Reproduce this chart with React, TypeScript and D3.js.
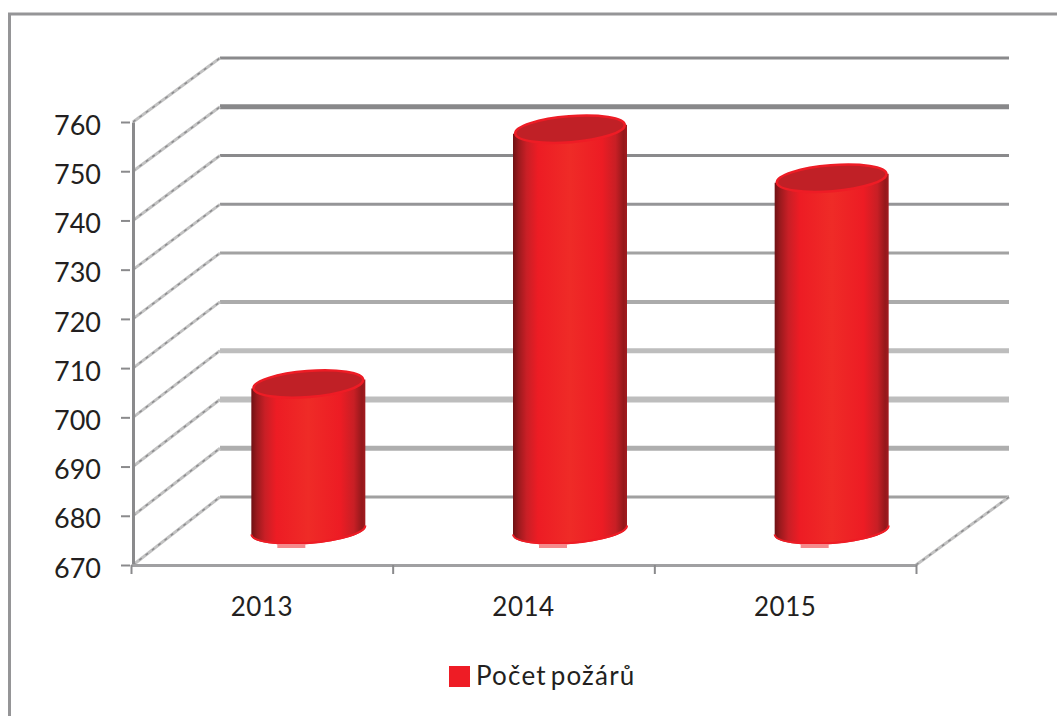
import * as d3 from 'd3';
import { useEffect, useRef } from 'react';

const categories = ['2013', '2014', '2015'];
const values = [700, 752, 742];
const yTicks = [670, 680, 690, 700, 710, 720, 730, 740, 750, 760];
const seriesName = 'Počet požárů';

// back wall lines differ a lot in the picture, bottom to top
const gridWidths = [3, 5, 6, 5, 4, 3, 3, 3, 5, 3];
const gridColors = ['#a0a0a0', '#aeaeae', '#bdbdbd', '#bdbdbd', '#ababab', '#a2a2a2', '#959597', '#8a8a8c', '#88888a', '#8a8a8c'];

const FONT = 'Lato, sans-serif';
const TILT = -4.5;

function App() {
  const svgRef = useRef<SVGSVGElement>(null);

  useEffect(() => {
    const svg = d3.select(svgRef.current);
    svg.selectAll('*').remove();

    const left = 131;
    const right = 916;
    const axisX = 133;
    const backX = 220;
    const wallRight = 1009;

    const x = d3.scaleBand().domain(categories).range([left, right]);
    const y = d3.scaleLinear().domain([670, 760]).range([565, 122]);
    const yBack = d3.scaleLinear().domain([670, 760]).range([497, 58]);
    const yMid = (v: number) => (y(v) + yBack(v)) / 2;

    // outer chart frame, only top and left edges are in the crop
    svg.append('path')
      .attr('d', 'M9.5,716V14H1057')
      .attr('fill', 'none')
      .attr('stroke', '#959597')
      .attr('stroke-width', 3);

    // back wall gridlines
    svg.append('g').selectAll('line').data(yTicks).join('line')
      .attr('x1', backX)
      .attr('x2', wallRight)
      .attr('y1', d => yBack(d))
      .attr('y2', d => yBack(d))
      .attr('stroke', (d, i) => gridColors[i])
      .attr('stroke-width', (d, i) => gridWidths[i]);

    // side wall diagonals + floor edge, a light line with a broken dark one on top
    const diagonals = [
      ...yTicks.map(t => [axisX, y(t), backX, yBack(t)]),
      [right, y(670), wallRight, yBack(670)],
    ];
    [{ c: '#c2c2c2', w: 3, dash: null }, { c: '#8c8c8e', w: 1.5, dash: '3 5' }].forEach(s => {
      svg.append('g').selectAll('line').data(diagonals).join('line')
        .attr('x1', d => d[0])
        .attr('y1', d => d[1])
        .attr('x2', d => d[2])
        .attr('y2', d => d[3])
        .attr('stroke', s.c)
        .attr('stroke-width', s.w)
        .attr('stroke-dasharray', s.dash);
    });

    // axes
    const yAxis = d3.axisLeft(y).tickValues(yTicks).tickSize(12).tickPadding(20).tickSizeOuter(0);
    const xAxis = d3.axisBottom(d3.scalePoint().domain(['a', 'b', 'c', 'd']).range([left, right]))
      .tickSize(9)
      .tickSizeOuter(0)
      .tickFormat(() => '');

    const yG = svg.append('g').attr('transform', `translate(${axisX},0)`).call(yAxis);
    yG.selectAll('text')
      .attr('font-family', FONT)
      .attr('font-size', 27)
      .attr('dy', '0.45em')
      .attr('fill', '#231f20');
    yG.select('.domain').attr('stroke', '#8a8a8c').attr('stroke-width', 3);
    yG.selectAll('.tick line').attr('x1', -3).attr('stroke', '#8a8a8c').attr('stroke-width', 2);

    const xG = svg.append('g').attr('transform', `translate(0,${y(670)})`).call(xAxis);
    xG.select('.domain').attr('stroke', '#a0a0a2').attr('stroke-width', 3);
    xG.selectAll('.tick line').attr('stroke', '#8a8a8c').attr('stroke-width', 2);

    svg.append('g').selectAll('text').data(categories).join('text')
      .attr('x', d => x(d)! + x.bandwidth() / 2)
      .attr('y', 616)
      .attr('text-anchor', 'middle')
      .attr('font-family', FONT)
      .attr('font-size', 26)
      .attr('letter-spacing', 0.5)
      .attr('fill', '#231f20')
      .text(d => d);

    // cylinder shading
    const defs = svg.append('defs');
    const grad = defs.append('linearGradient').attr('id', 'cyl');
    [
      [0, '#6f1114'],
      [0.05, '#9c1a1e'],
      [0.12, '#c91f26'],
      [0.22, '#ed1c24'],
      [0.5, '#ef2b27'],
      [0.78, '#ed1c24'],
      [0.9, '#c81f25'],
      [0.97, '#94181b'],
      [1, '#a31b1f'],
    ].forEach(([o, c]) => grad.append('stop').attr('offset', o as number).attr('stop-color', c as string));

    const rx = 57;
    const ry = 13;
    const slant = Math.sin((-TILT * Math.PI) / 180) * rx;
    const rim = (cx: number, cy: number, side: number) => [cx + side * rx, cy - side * slant];

    const bars = svg.append('g').selectAll('g').data(categories).join('g');
    const cxOf = (c: string) => x(c)! + x.bandwidth() / 2 + 46.5;
    const topOf = (i: number) => yMid(values[i]);
    const baseY = yMid(670);

    bars.append('path')
      .attr('d', (c, i) => {
        const cx = cxOf(c);
        const a = rim(cx, topOf(i), -1);
        const b = rim(cx, baseY, -1);
        const e = rim(cx, baseY, 1);
        const f = rim(cx, topOf(i), 1);
        return `M${a}L${b}A${rx},${ry} ${TILT} 0 0 ${e}L${f}Z`;
      })
      .attr('fill', 'url(#cyl)');

    // bright rim along the bottom of the body, kept inside the side edges
    bars.append('path')
      .attr('d', c => {
        const cx = cxOf(c);
        return `M${rim(cx, baseY, -1)}A${rx},${ry} ${TILT} 0 0 ${rim(cx, baseY, 1)}`;
      })
      .attr('fill', 'none')
      .attr('stroke', '#ee1c25')
      .attr('stroke-width', 2)
      .attr('transform', 'translate(0,-1)');

    bars.append('ellipse')
      .attr('cx', 0)
      .attr('cy', 0)
      .attr('rx', rx - 2)
      .attr('ry', ry)
      .attr('transform', (c, i) => `translate(${cxOf(c)},${topOf(i)}) rotate(${TILT})`)
      .attr('fill', '#c02026')
      .attr('stroke', '#ee1c25')
      .attr('stroke-width', 2.5);

    // small pink compression patch under each cylinder
    bars.append('rect')
      .attr('x', c => cxOf(c) - 31)
      .attr('y', baseY + ry)
      .attr('width', 28)
      .attr('height', 4)
      .attr('fill', '#f58a8c');

    // legend
    svg.append('rect')
      .attr('x', 449)
      .attr('y', 666)
      .attr('width', 21)
      .attr('height', 21)
      .attr('fill', '#ee1c25');
    svg.append('text')
      .attr('x', 476)
      .attr('y', 685)
      .attr('font-family', FONT)
      .attr('font-size', 26)
      .attr('letter-spacing', 1.2)
      .attr('word-spacing', -4)
      .attr('fill', '#231f20')
      .text(seriesName);
  }, []);

  return (
    <svg
      ref={svgRef}
      width={1057}
      height={716}
      style={{ position: 'absolute', left: 0, top: 0, display: 'block', background: '#fff' }}
    />
  );
}

export default App;
